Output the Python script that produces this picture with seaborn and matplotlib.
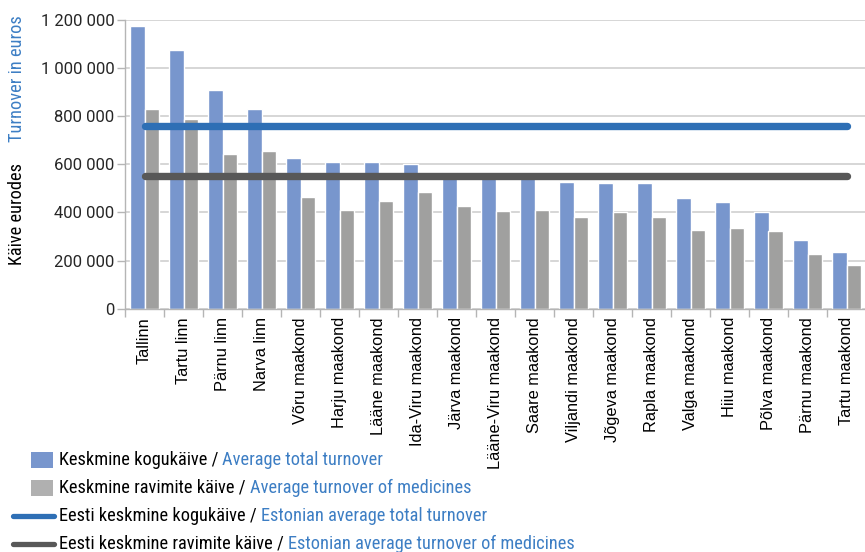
import matplotlib
matplotlib.use("Agg")
import matplotlib.pyplot as plt
import matplotlib.font_manager as fm
from matplotlib.patches import Rectangle
from matplotlib.lines import Line2D
from matplotlib.ticker import FuncFormatter, FixedLocator
import seaborn as sns
import pandas as pd
import numpy as np

categories = ["Tallinn", "Tartu linn", "Pärnu linn", "Narva linn", "Võru maakond",
              "Harju maakond", "Lääne maakond", "Ida-Viru maakond", "Järva maakond",
              "Lääne-Viru maakond", "Saare maakond", "Viljandi maakond", "Jõgeva maakond",
              "Rapla maakond", "Valga maakond", "Hiiu maakond", "Põlva maakond",
              "Pärnu maakond", "Tartu maakond"]
total_turnover = [1175000, 1074000, 907000, 828000, 628000, 611000, 611000, 600000, 568000,
                  550000, 545000, 525000, 521000, 521000, 462000, 442000, 404000, 287000, 237000]
medicine_turnover = [828000, 790000, 645000, 657000, 465000, 411000, 449000, 486000, 428000,
                     408000, 412000, 383000, 404000, 383000, 329000, 337000, 321000, 229000, 183000]
estonian_avg_total = 761000
estonian_avg_medicines = 553000

series_names = ["total", "medicines"]
legend_black = ["Keskmine kogukäive /", "Keskmine ravimite käive /",
                "Eesti keskmine kogukäive /", "Eesti keskmine ravimite käive /"]
legend_blue = ["Average total turnover", "Average turnover of medicines",
               "Estonian average total turnover", "Estonian average turnover of medicines"]
ylabel_black = "Käive eurodes"
ylabel_blue = "Turnover in euros"
yticks = [0, 200000, 400000, 600000, 800000, 1000000, 1200000]

BAR_BLUE = "#7896cd"
BAR_GRAY = "#a0a09f"
LINE_BLUE = "#2e6fb5"
LINE_GRAY = "#585858"
TXT_BLUE = "#3d7ec4"

names = {f.name for f in fm.fontManager.ttflist}
COND = "Roboto Condensed" if "Roboto Condensed" in names else "Roboto"

sns.set_theme(style="white")
plt.rcParams["font.family"] = [COND, "DejaVu Sans"]

W, H = 865, 552
fig = plt.figure(figsize=(W / 100, H / 100), dpi=100)
left, right, top, bottom = 125, 866, 20, 308.7
ax = fig.add_axes([left / W, 1 - bottom / H, (right - left) / W, (bottom - top) / H])

df = pd.DataFrame({
    "region": categories * 2,
    "value": total_turnover + medicine_turnover,
    "series": [series_names[0]] * len(categories) + [series_names[1]] * len(categories),
})
sns.barplot(data=df, x="region", y="value", hue="series", order=categories,
            hue_order=series_names, palette=[BAR_BLUE, BAR_GRAY], saturation=1,
            width=0.74, gap=0, legend=False, ax=ax, zorder=2)

n = len(categories)
ax.plot([0, n - 1], [estonian_avg_total] * 2, color=LINE_BLUE, lw=5.3,
        solid_capstyle="round", zorder=3)
ax.plot([0, n - 1], [estonian_avg_medicines] * 2, color=LINE_GRAY, lw=5.3,
        solid_capstyle="round", zorder=3)

ax.set_xlim(-0.5, n - 0.5)
ax.set_ylim(0, 1200000)
ax.set_yticks(yticks)
ax.yaxis.set_major_formatter(FuncFormatter(lambda v, p: f"{int(v):,}".replace(",", " ")))
ax.grid(axis="y", color="#cfcfcf", lw=1.2, zorder=0)
ax.set_axisbelow(True)
for s in ["top", "right"]:
    ax.spines[s].set_visible(False)
for s in ["left", "bottom"]:
    ax.spines[s].set_color("#b5b5b5")
    ax.spines[s].set_linewidth(1.0)
ax.tick_params(axis="y", which="major", left=True, length=6, width=1, color="#b5b5b5",
               labelsize=12, pad=1.5)
for t in ax.get_yticklabels():
    t.set_fontfamily(["Roboto", "DejaVu Sans"])
ax.xaxis.set_minor_locator(FixedLocator(np.arange(-0.5, n, 1)))
ax.tick_params(axis="x", which="major", length=0, pad=6)
ax.tick_params(axis="x", which="minor", bottom=True, length=6, width=1, color="#b5b5b5")
ax.set_xticks(range(n))
ax.set_xticklabels(categories, rotation=90, family=["Liberation Sans", "DejaVu Sans"],
                   fontsize=11.8, color="black")
ax.set_xlabel("")
ax.set_ylabel("")

def fx(px):
    return px / W

def fy(py):
    return 1 - py / H

# y axis label (two colours)
fig.text(fx(17.5), fy(265), ylabel_black, rotation=90, ha="center", va="bottom",
         fontsize=13.2, color="black")
fig.text(fx(17.5), fy(15), ylabel_blue, rotation=90, ha="center", va="top",
         fontsize=13.2, color=TXT_BLUE)

# legend
rows_y = [460, 488, 516, 544]
handles = [("patch", BAR_BLUE), ("patch", "#b0b0b0"), ("line", LINE_BLUE), ("line", LINE_GRAY)]
fig.canvas.draw()
renderer = fig.canvas.get_renderer()
for (kind, col), ry, tb, tbl in zip(handles, rows_y, legend_black, legend_blue):
    if kind == "patch":
        fig.add_artist(Rectangle((fx(31), fy(ry + 7.8)), 22 / W, 15.5 / H,
                                 transform=fig.transFigure, facecolor=col, edgecolor="none"))
    else:
        fig.add_artist(Line2D([fx(12.7), fx(54)], [fy(ry), fy(ry)], transform=fig.transFigure,
                              color=col, lw=3.8, solid_capstyle="round"))
    tx = fig.text(fx(59), fy(ry), tb, ha="left", va="center", fontsize=13.2, color="black")
    bb = tx.get_window_extent(renderer=renderer)
    fig.text(fx(bb.x1 + 4), fy(ry), tbl, ha="left", va="center", fontsize=13.2, color=TXT_BLUE)

fig.savefig("out.png", dpi=100, facecolor="white")
